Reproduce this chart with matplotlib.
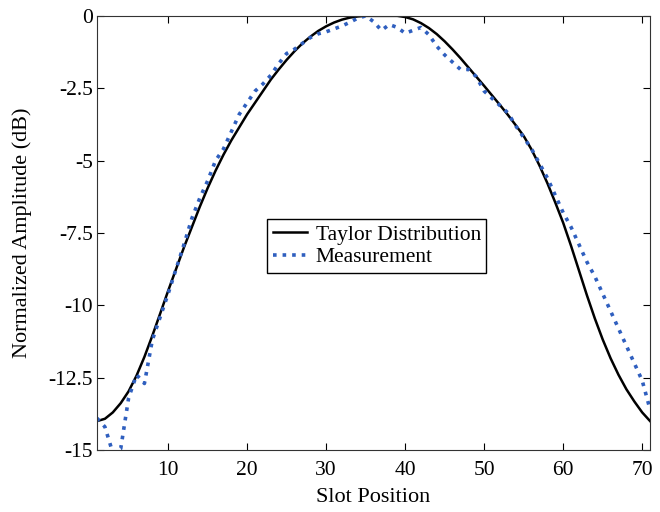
import matplotlib
matplotlib.use("Agg")
import matplotlib.pyplot as plt
from matplotlib.ticker import FuncFormatter

plt.rcParams['font.family'] = ['Liberation Serif', 'DejaVu Serif']
plt.rcParams['axes.unicode_minus'] = False

# slot index 1..71
slots = list(range(1, 72))

taylor = [-14.0, -13.92, -13.7, -13.38, -12.97, -12.43, -11.78, -11.05, -10.28, -9.5,
          -8.75, -8.0, -7.3, -6.6, -5.95, -5.35, -4.8, -4.3, -3.85, -3.4,
          -3.0, -2.6, -2.2, -1.85, -1.52, -1.22, -0.95, -0.72, -0.52, -0.36,
          -0.23, -0.13, -0.06, -0.02, 0.0, 0.0, 0.0, 0.0, 0.0, -0.04,
          -0.12, -0.25, -0.42, -0.63, -0.88, -1.16, -1.46, -1.78, -2.1, -2.42,
          -2.75, -3.08, -3.42, -3.78, -4.15, -4.62, -5.17, -5.78, -6.45, -7.15,
          -7.95, -8.8, -9.65, -10.45, -11.18, -11.83, -12.4, -12.9, -13.32, -13.7,
          -14.0]

measured = [-13.9, -14.2, -15.1, -14.95, -13.2, -12.4, -12.7, -11.2, -10.4, -9.6,
            -8.75, -7.9, -7.0, -6.3, -5.7, -5.0, -4.6, -4.0, -3.4, -3.0,
            -2.6, -2.35, -2.05, -1.65, -1.3, -1.15, -0.95, -0.75, -0.62, -0.55,
            -0.45, -0.35, -0.22, -0.08, 0.0, -0.2, -0.5, -0.3, -0.4, -0.6,
            -0.5, -0.4, -0.65, -1.05, -1.35, -1.6, -1.85, -1.85, -2.1, -2.6,
            -2.85, -3.1, -3.35, -3.8, -4.2, -4.6, -5.1, -5.6, -6.2, -6.8,
            -7.3, -7.9, -8.5, -9.0, -9.6, -10.2, -10.8, -11.4, -12.0, -12.6,
            -13.6]

x_ticks = [10, 20, 30, 40, 50, 60, 70]
y_ticks = [0, -2.5, -5, -7.5, -10, -12.5, -15]

fig = plt.figure(figsize=(6.6, 5.12), dpi=100)
ax = fig.add_axes([0.147, 0.121, 0.838, 0.848])

ax.plot(slots, taylor, color='black', lw=1.8, label='Taylor Distribution')
ax.plot(slots, measured, color='#2f5fbf', lw=2.6, ls=':', label='Measurement')

ax.set_xlim(1, 71)
ax.set_ylim(-15, 0)
ax.set_xticks(x_ticks)
ax.set_yticks(y_ticks)
ax.yaxis.set_major_formatter(FuncFormatter(lambda v, p: ('%g' % v)))
ax.tick_params(direction='in', top=True, right=True, labelsize=15.5, length=5, pad=3)
ax.tick_params(axis='x', pad=8)
for s in ax.spines.values():
    s.set_color('#333333')
ax.set_xlabel('Slot Position', fontsize=16, labelpad=6)
ax.set_ylabel('Normalized Amplitude (dB)', fontsize=16, labelpad=12)

leg = ax.legend(loc='center', bbox_to_anchor=(0.506, 0.47), fontsize=15.5,
                fancybox=False, edgecolor='black', framealpha=1,
                borderpad=0.25, handlelength=1.6, handletextpad=0.4,
                labelspacing=0.1, borderaxespad=0)
leg.get_frame().set_linewidth(1.0)

fig.savefig('out.png', dpi=100)
